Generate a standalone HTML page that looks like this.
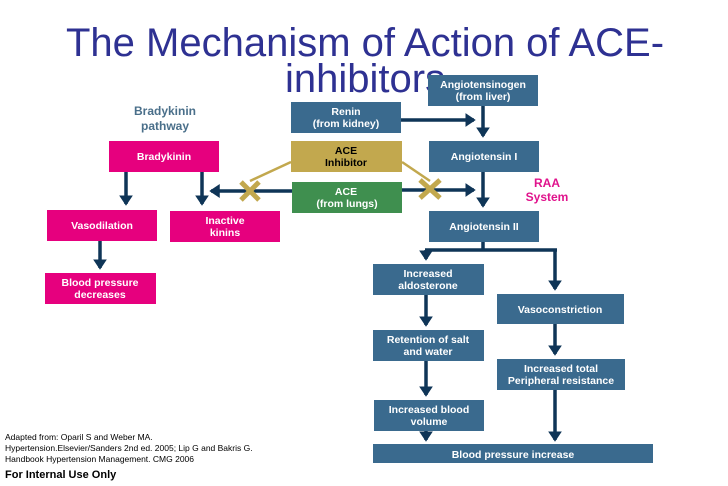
<!DOCTYPE html>
<html><head><style>
body{margin:0;background:#fff;}
svg{display:block;font-family:"Liberation Sans",Arial,sans-serif;}
.t{font-size:10.5px;font-weight:bold;fill:#fff;text-anchor:middle;}
</style></head><body>
<svg width="728" height="486" viewBox="0 0 728 486" xmlns="http://www.w3.org/2000/svg">
<defs><marker id="a" markerWidth="4" markerHeight="4" refX="2.5" refY="2" orient="auto" markerUnits="strokeWidth"><path d="M0,0 L3,2 L0,4 z" fill="#0f3557"/></marker></defs>
<text x="365" y="56" font-size="40" fill="#2e3192" text-anchor="middle">The Mechanism of Action of ACE-</text>
<text x="285" y="92" font-size="40" fill="#2e3192">inhibitors</text>
<text x="165" y="115" font-size="12" font-weight="bold" fill="#4a6f8a" text-anchor="middle">Bradykinin</text>
<text x="165" y="130" font-size="12" font-weight="bold" fill="#4a6f8a" text-anchor="middle">pathway</text>
<text x="547" y="187" font-size="12" font-weight="bold" fill="#e0138c" text-anchor="middle">RAA</text>
<text x="547" y="201" font-size="12" font-weight="bold" fill="#e0138c" text-anchor="middle">System</text>
<g stroke="#0f3557" stroke-width="3.5" fill="none">
<line x1="483" y1="106" x2="483" y2="136" marker-end="url(#a)"/>
<line x1="401" y1="120" x2="474" y2="120" marker-end="url(#a)"/>
<line x1="402" y1="190" x2="474" y2="190" marker-end="url(#a)"/>
<line x1="483" y1="172" x2="483" y2="206" marker-end="url(#a)"/>
<polyline points="483,242 483,250"/>
<line x1="425" y1="250" x2="557" y2="250"/>
<line x1="426" y1="250" x2="426" y2="259" marker-end="url(#a)"/>
<line x1="555" y1="250" x2="555" y2="289" marker-end="url(#a)"/>
<line x1="426" y1="295" x2="426" y2="325" marker-end="url(#a)"/>
<line x1="426" y1="361" x2="426" y2="395" marker-end="url(#a)"/>
<line x1="426" y1="431" x2="426" y2="440" marker-end="url(#a)"/>
<line x1="555" y1="324" x2="555" y2="354" marker-end="url(#a)"/>
<line x1="555" y1="390" x2="555" y2="440" marker-end="url(#a)"/>
<line x1="126" y1="172" x2="126" y2="204" marker-end="url(#a)"/>
<line x1="202" y1="172" x2="202" y2="204" marker-end="url(#a)"/>
<line x1="292" y1="191" x2="211" y2="191" marker-end="url(#a)"/>
<line x1="100" y1="241" x2="100" y2="268" marker-end="url(#a)"/>
</g>
<g stroke="#c2a84e" stroke-width="2.5">
<line x1="291" y1="162" x2="250" y2="181"/>
<line x1="402" y1="162" x2="430" y2="181"/>
</g>
<g stroke="#c2a84e" stroke-width="5">
<line x1="241" y1="182" x2="259" y2="200"/><line x1="259" y1="182" x2="241" y2="200"/>
<line x1="420" y1="180" x2="440" y2="198"/><line x1="440" y1="180" x2="420" y2="198"/>
</g>
<g fill="#3a6a8e">
<rect x="428" y="75" width="110" height="31"/>
<rect x="291" y="102" width="110" height="31"/>
<rect x="429" y="141" width="110" height="31"/>
<rect x="429" y="211" width="110" height="31"/>
<rect x="373" y="264" width="111" height="31"/>
<rect x="497" y="294" width="127" height="30"/>
<rect x="373" y="330" width="111" height="31"/>
<rect x="497" y="359" width="128" height="31"/>
<rect x="374" y="400" width="110" height="31"/>
<rect x="373" y="444" width="280" height="19"/>
</g>
<rect x="291" y="141" width="111" height="31" fill="#c2a84e"/>
<rect x="292" y="182" width="110" height="31" fill="#3f8f4f"/>
<g fill="#e6007e">
<rect x="109" y="141" width="110" height="31"/>
<rect x="47" y="210" width="110" height="31"/>
<rect x="170" y="211" width="110" height="31"/>
<rect x="45" y="273" width="111" height="31"/>
</g>
<g class="t">
<text x="483" y="88">Angiotensinogen</text><text x="483" y="100">(from liver)</text>
<text x="346" y="115">Renin</text><text x="346" y="127">(from kidney)</text>
<text x="484" y="160">Angiotensin I</text>
<text x="484" y="230">Angiotensin II</text>
<text x="428" y="277">Increased</text><text x="428" y="289">aldosterone</text>
<text x="560" y="313">Vasoconstriction</text>
<text x="428" y="343">Retention of salt</text><text x="428" y="355">and water</text>
<text x="561" y="372">Increased total</text><text x="561" y="384">Peripheral resistance</text>
<text x="429" y="413">Increased blood</text><text x="429" y="425">volume</text>
<text x="513" y="458">Blood pressure increase</text>
<text x="346" y="195">ACE</text><text x="347" y="207">(from lungs)</text>
<text x="164" y="160">Bradykinin</text>
<text x="102" y="229">Vasodilation</text>
<text x="225" y="224">Inactive</text><text x="225" y="236">kinins</text>
<text x="100" y="286">Blood pressure</text><text x="100" y="298">decreases</text>
</g>
<text x="346" y="154" font-size="10.5" font-weight="bold" fill="#000" text-anchor="middle">ACE</text>
<text x="346" y="166" font-size="10.5" font-weight="bold" fill="#000" text-anchor="middle">Inhibitor</text>
<g font-size="8.5" fill="#000">
<text x="5" y="440">Adapted from: Oparil S and Weber MA.</text>
<text x="5" y="451">Hypertension.Elsevier/Sanders 2nd ed. 2005; Lip G and Bakris G.</text>
<text x="5" y="462">Handbook Hypertension Management. CMG 2006</text>
</g>
<text x="5" y="478" font-size="11" font-weight="bold" fill="#000">For Internal Use Only</text>
</svg>
</body></html>
